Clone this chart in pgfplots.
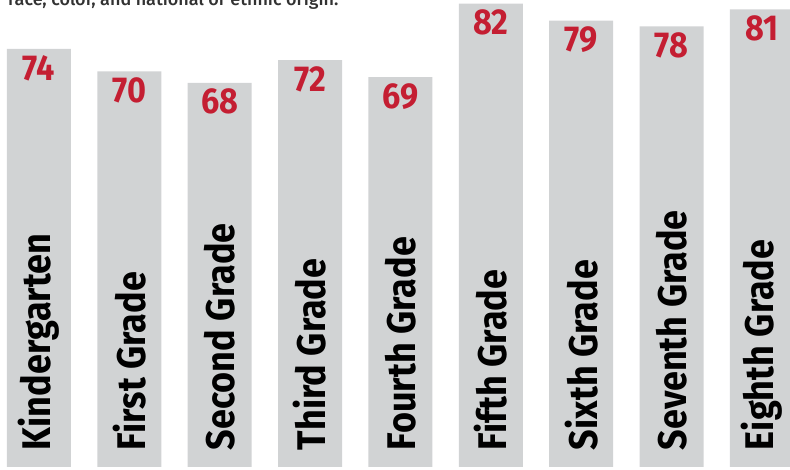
\documentclass[border=0pt]{standalone}
\usepackage{pgfplots}
\pgfplotsset{compat=1.18}
\usepackage{fontspec}
\setmainfont{Fira Sans}
\newfontfamily\labelfont{Fira Sans}[FakeStretch=0.9]
\newfontfamily\topfont{Fira Sans Medium}
\definecolor{bargray}{RGB}{209,211,212}
\definecolor{numred}{RGB}{196,30,50}
\definecolor{topgray}{RGB}{50,50,50}

\begin{document}
\begin{tikzpicture}
\useasboundingbox (0,-3pt) rectangle (790pt,467pt);
% cut-off line of text above the chart
\node[anchor=base west, inner sep=0, font=\topfont\fontsize{18}{20}\selectfont, text=topgray]
  at (8pt,461pt) {race, color, and national or ethnic origin.};
\begin{axis}[
    scale only axis,
    width=790pt, height=467pt,
    xmin=-0.4315, xmax=8.31,
    ymin=0, ymax=82.65,
    ybar, bar width=64pt,
    axis on top,
    axis line style={draw=none},
    tick style={draw=none},
    ytick=\empty,
    xtick=data,
    xticklabels={Kindergarten,First Grade,Second Grade,Third Grade,Fourth Grade,Fifth Grade,Sixth Grade,Seventh Grade,Eighth Grade},
    xticklabel shift=-21pt,
    xticklabel style={rotate=90, anchor=west, inner sep=0pt,
        font=\labelfont\bfseries\fontsize{40}{40}\selectfont, text=black},
    nodes near coords,
    /pgf/number format/assume math mode=true,
    every node near coord/.append style={anchor=north, yshift=-6pt, inner sep=0pt,
        font=\labelfont\bfseries\fontsize{36}{36}\selectfont, text=numred},
]
\addplot[fill=bargray, draw=none] coordinates {
    (0,74) (1,70) (2,68) (3,72) (4,69) (5,82) (6,79) (7,78) (8,81)};
\end{axis}
\end{tikzpicture}
\end{document}
